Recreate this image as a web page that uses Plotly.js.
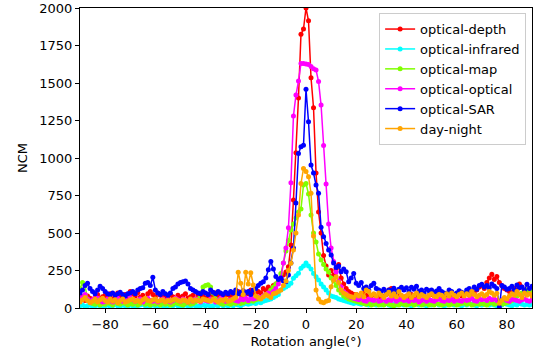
<!DOCTYPE html>
<html>
<head>
<meta charset="utf-8">
<script src="https://cdn.plot.ly/plotly-3.0.1.min.js"></script>
<style>html,body{margin:0;padding:0;background:#fff;}#chart{width:540px;height:356px;}</style>
</head>
<body>
<div id="chart"></div>
<script>
// Rotation angles -90..90 (1 degree steps)
const angles = [];
for (let a = -90; a <= 90; a++) angles.push(a);

const seriesNames = ["optical-depth", "optical-infrared", "optical-map", "optical-optical", "optical-SAR", "day-night"];
const seriesColors = ["#ff0000", "#00ffff", "#7fff00", "#ff00ff", "#0000ff", "#ffa500"];

const opticalDepth = [
  60, 75, 50, 80, 65, 55, 70, 90, 60, 75,
  85, 70, 95, 60, 80, 100, 75, 65, 90, 70,
  110, 95, 80, 105, 70, 85, 60, 95, 110, 90,
  75, 100, 85, 70, 80, 65, 90, 75, 60, 85,
  70, 80, 95, 65, 75, 85, 60, 90, 70, 80,
  65, 75, 90, 70, 100, 80, 95, 70, 85, 90,
  75, 100, 85, 110, 90, 80, 105, 95, 120, 100,
  90, 110, 100, 130, 115, 140, 120, 150, 160, 180,
  200, 220, 240, 275, 420, 720, 1035, 1400, 1825, 1860,
  2000, 1915, 1535, 1335, 900, 640, 500, 350, 280, 220,
  250, 220, 260, 290, 200, 160, 130, 110, 100, 90,
  90, 80, 75, 100, 85, 70, 80, 90, 75, 70,
  85, 75, 90, 120, 130, 100, 85, 95, 80, 70,
  80, 75, 90, 70, 85, 80, 95, 75, 70, 85,
  90, 80, 75, 95, 85, 70, 90, 110, 80, 75,
  85, 95, 80, 90, 100, 85, 110, 95, 120, 140,
  150, 130, 170, 200, 225, 190, 210, 170, 150, 130,
  120, 110, 100, 130, 115, 160, 140, 100, 120, 105,
  110
];

const opticalInfrared = [
  15, 20, 10, 15, 20, 10, 15, 20, 15, 10,
  15, 20, 10, 15, 25, 15, 10, 20, 15, 10,
  20, 15, 10, 15, 20, 25, 15, 10, 15, 20,
  15, 10, 20, 15, 10, 15, 20, 15, 25, 15,
  10, 15, 20, 15, 10, 20, 15, 10, 15, 20,
  15, 20, 10, 15, 20, 15, 25, 15, 20, 15,
  20, 15, 25, 20, 15, 25, 30, 25, 30, 35,
  30, 40, 35, 45, 50, 55, 60, 70, 80, 90,
  120, 130, 140, 150, 165, 198, 215, 231, 265, 280,
  300, 280, 260, 230, 209, 187, 160, 140, 120, 100,
  80, 75, 70, 60, 55, 50, 45, 40, 35, 30,
  35, 30, 25, 30, 25, 20, 25, 30, 20, 25,
  20, 25, 30, 20, 15, 25, 20, 30, 25, 20,
  25, 20, 15, 25, 30, 20, 25, 20, 15, 25,
  20, 25, 30, 20, 25, 15, 20, 25, 30, 20,
  25, 20, 15, 25, 20, 30, 25, 20, 15, 25,
  20, 25, 30, 20, 25, 20, 15, 25, 20, 30,
  25, 20, 15, 25, 20, 30, 25, 20, 25, 20,
  25
];

const opticalMap = [
  130, 170, 150, 60, 40, 30, 25, 35, 20, 30,
  25, 35, 30, 20, 40, 30, 25, 35, 30, 20,
  30, 25, 35, 20, 30, 40, 25, 30, 20, 35,
  25, 30, 20, 35, 25, 30, 20, 25, 35, 30,
  25, 20, 30, 35, 25, 30, 40, 60, 100, 140,
  150, 155, 140, 100, 60, 40, 30, 25, 35, 30,
  25, 35, 30, 40, 30, 35, 45, 40, 50, 45,
  55, 60, 70, 80, 90, 100, 120, 140, 160, 190,
  230, 300, 380, 450, 520, 560, 600, 640, 660, 820,
  830, 760, 620, 500, 440, 360, 320, 290, 260, 240,
  200, 180, 150, 120, 100, 80, 70, 60, 55, 50,
  45, 40, 35, 30, 25, 30, 20, 25, 30, 20,
  25, 20, 30, 25, 20, 15, 25, 20, 30, 25,
  20, 25, 30, 20, 25, 30, 20, 25, 30, 20,
  25, 20, 30, 25, 20, 25, 30, 20, 25, 30,
  20, 25, 30, 35, 25, 30, 20, 25, 30, 25,
  30, 25, 20, 30, 35, 25, 30, 20, 25, 30,
  35, 40, 50, 60, 80, 90, 100, 110, 120, 115,
  110
];

const opticalOptical = [
  50, 70, 90, 60, 45, 55, 100, 65, 50, 40,
  45, 60, 50, 40, 55, 65, 50, 45, 60, 90,
  70, 55, 45, 50, 60, 40, 55, 65, 50, 45,
  55, 40, 50, 60, 45, 55, 40, 50, 65, 55,
  45, 60, 50, 40, 55, 45, 60, 50, 40, 55,
  50, 45, 60, 55, 40, 50, 65, 55, 45, 50,
  55, 60, 50, 45, 60, 55, 65, 50, 70, 60,
  65, 75, 70, 80, 90, 100, 95, 110, 130, 160,
  200, 300, 400, 535, 835, 1280, 1420, 1513, 1630, 1630,
  1627, 1623, 1610, 1595, 1587, 1510, 1353, 1083, 827, 560,
  400, 310, 240, 180, 140, 110, 95, 80, 70, 65,
  60, 55, 70, 50, 45, 60, 55, 50, 65, 45,
  50, 60, 45, 55, 50, 65, 45, 55, 60, 50,
  55, 45, 60, 50, 55, 40, 50, 60, 45, 55,
  50, 45, 55, 60, 50, 45, 55, 50, 60, 45,
  55, 50, 45, 60, 50, 55, 65, 50, 45, 60,
  55, 60, 50, 65, 55, 60, 50, 45, 55, 60,
  50, 45, 60, 55, 50, 45, 55, 60, 50, 45,
  55
];

const opticalSAR = [
  100, 120, 150, 165, 130, 110, 95, 120, 145, 130,
  110, 95, 90, 100, 85, 95, 105, 90, 80, 95,
  100, 110, 95, 120, 130, 135, 165, 170, 150, 205,
  120, 100, 90, 110, 95, 85, 100, 130, 140, 160,
  170, 175, 180, 160, 130, 120, 110, 100, 95, 110,
  100, 90, 120, 105, 95, 110, 100, 90, 105, 95,
  110, 100, 120, 95, 105, 115, 100, 110, 90, 120,
  130, 150, 165, 175, 200, 255, 310, 260, 210, 190,
  200, 180, 175, 220, 300, 400, 700, 1030, 1075, 1085,
  1458, 1242, 953, 900, 820, 765, 538, 475, 430, 387,
  353, 300, 270, 280, 242, 260, 242, 175, 200, 230,
  165, 150, 170, 130, 140, 120, 150, 165, 130, 120,
  110, 125, 100, 120, 115, 131, 110, 125, 138, 120,
  135, 110, 138, 125, 145, 110, 120, 100, 125, 115,
  120, 105, 113, 130, 110, 100, 95, 120, 110, 90,
  100, 115, 105, 95, 120, 130, 110, 140, 125, 150,
  158, 140, 150, 135, 160, 145, 130, 5, 150, 140,
  125, 130, 145, 120, 153, 135, 140, 120, 158, 130,
  145
];

const dayNight = [
  40, 55, 70, 50, 35, 45, 60, 40, 55, 65,
  50, 40, 60, 45, 55, 35, 50, 60, 40, 45,
  55, 60, 45, 50, 40, 55, 65, 50, 45, 55,
  60, 45, 50, 55, 40, 50, 45, 55, 60, 50,
  45, 55, 50, 40, 60, 45, 55, 50, 45, 60,
  55, 50, 45, 60, 50, 40, 55, 50, 60, 45,
  50, 60, 70, 238, 165, 90, 238, 160, 235, 153,
  80, 70, 60, 75, 90, 80, 70, 95, 100, 110,
  120, 150, 180, 250, 298, 387, 500, 620, 830, 930,
  910, 875, 765, 480, 120, 60, 40, 35, 45, 50,
  142, 187, 209, 170, 120, 100, 90, 80, 75, 70,
  90, 80, 100, 75, 120, 110, 85, 95, 80, 100,
  85, 70, 90, 105, 80, 95, 75, 110, 85, 70,
  80, 95, 70, 85, 100, 75, 90, 80, 70, 85,
  95, 80, 75, 90, 85, 70, 95, 80, 100, 85,
  75, 90, 100, 80, 95, 85, 110, 90, 75, 85,
  95, 80, 90, 110, 100, 85, 98, 31, 50, 70,
  60, 80, 95, 85, 110, 90, 70, 100, 85, 95,
  80
];

const seriesValues = [opticalDepth, opticalInfrared, opticalMap, opticalOptical, opticalSAR, dayNight];

const yTicks = [0, 250, 500, 750, 1000, 1250, 1500, 1750, 2000];
const xTicks = [-80, -60, -40, -20, 0, 20, 40, 60, 80];

const font = "DejaVu Sans, Liberation Sans, sans-serif";

const traces = seriesNames.map((name, k) => ({
  type: "scatter",
  mode: "lines+markers",
  name: name,
  x: angles,
  y: seriesValues[k],
  line: {color: seriesColors[k], width: 1.5},
  marker: {color: seriesColors[k], size: 5}
}));

const layout = {
  width: 540, height: 356,
  margin: {l: 80, r: 8, t: 8, b: 48},
  paper_bgcolor: "#fff", plot_bgcolor: "#fff",
  font: {family: font, size: 13, color: "#000"},
  showlegend: true,
  legend: {
    x: 0.987, xanchor: "right", y: 0.983, yanchor: "top",
    bgcolor: "rgba(255,255,255,0.8)", bordercolor: "#cccccc", borderwidth: 1,
    font: {family: font, size: 13, color: "#000"},
    tracegroupgap: 0, itemwidth: 30
  },
  xaxis: {
    range: [-90, 90], tickmode: "array", tickvals: xTicks,
    ticks: "outside", ticklen: 4, tickwidth: 1, tickcolor: "#000",
    showline: true, linecolor: "#000", linewidth: 1, mirror: true,
    showgrid: false, zeroline: false,
    title: {text: "Rotation angle(°)", font: {family: font, size: 13}, standoff: 6}
  },
  yaxis: {
    range: [0, 2000], tickmode: "array", tickvals: yTicks,
    ticks: "outside", ticklen: 4, tickwidth: 1, tickcolor: "#000",
    showline: true, linecolor: "#000", linewidth: 1, mirror: true,
    showgrid: false, zeroline: false,
    title: {text: "NCM", font: {family: font, size: 13}, standoff: 8}
  }
};

Plotly.newPlot("chart", traces, layout, {displayModeBar: false, staticPlot: true});
</script>
</body>
</html>
